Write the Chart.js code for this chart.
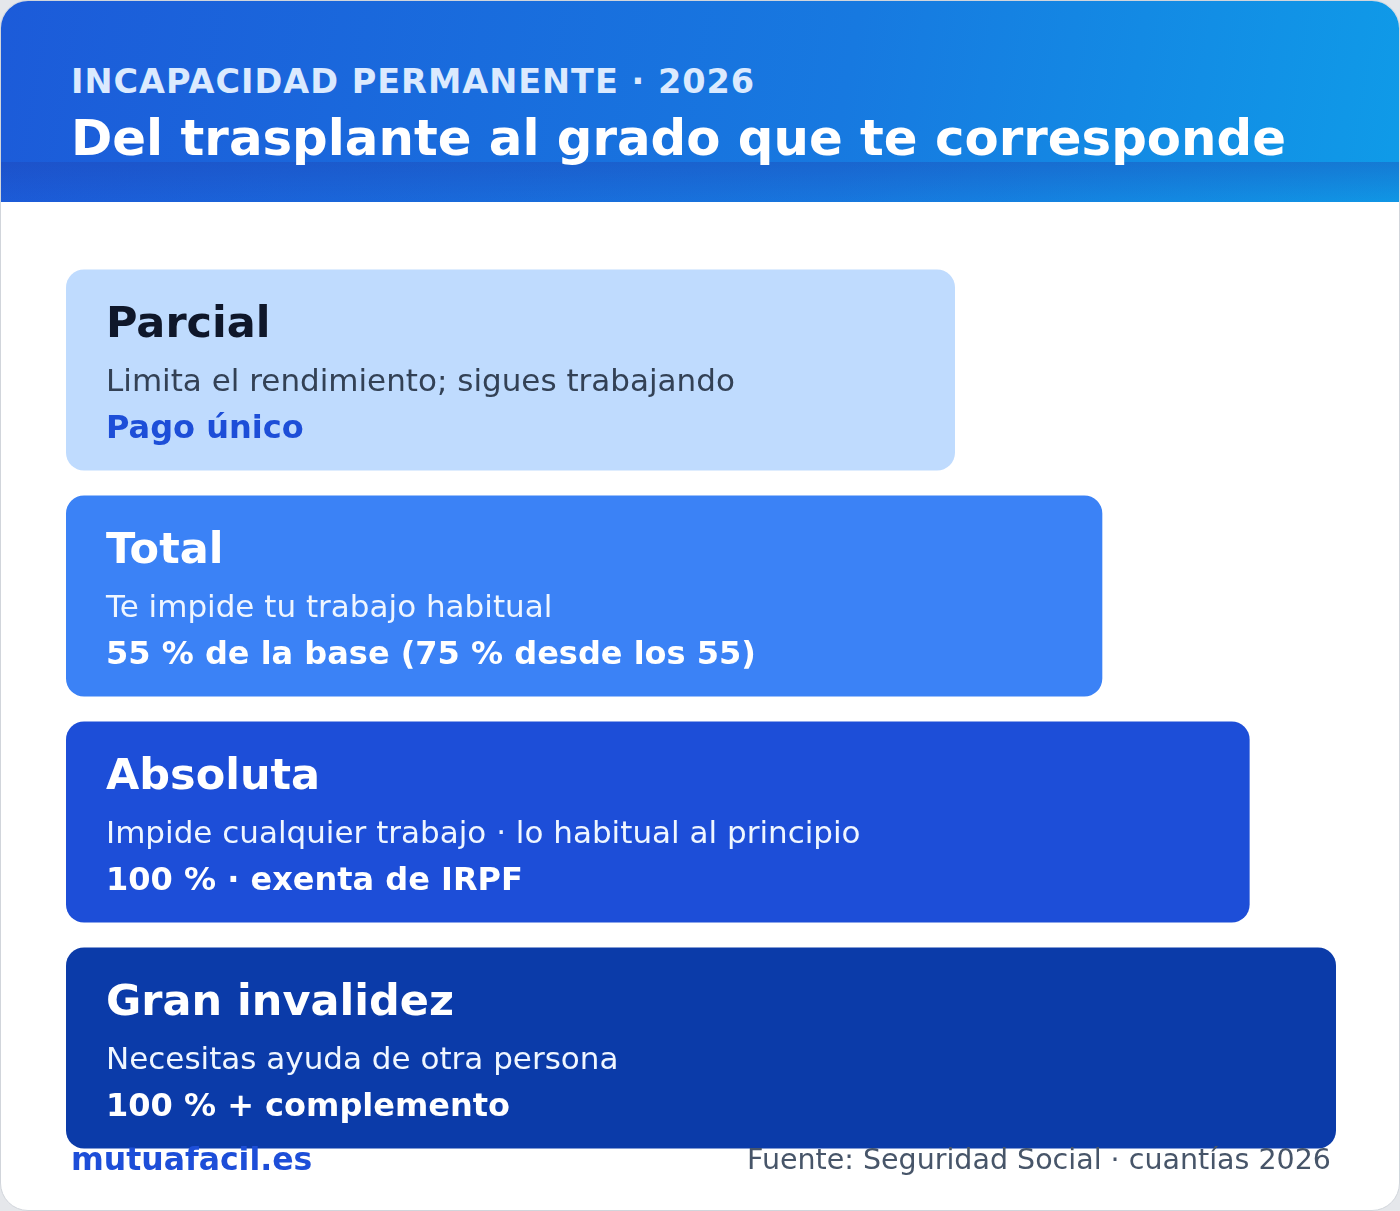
<!DOCTYPE html>
<html><head><meta charset="utf-8">
<script src="https://cdn.jsdelivr.net/npm/chart.js@4"></script>
<style>
  html,body{margin:0;padding:0;background:#e5e7eb;}
  body{width:1400px;height:1211px;position:relative;font-family:"DejaVu Sans",sans-serif;overflow:hidden;}
  .card{position:absolute;left:0;top:0;width:1398px;height:1209px;background:#fff;border:1px solid #d1d5db;border-radius:28px;overflow:hidden;}
  .head{position:absolute;left:0;top:0;width:100%;height:201px;background:linear-gradient(100deg,#1c5bd9 0%,#1779e0 60%,#0f9be8 100%);}
  .band{position:absolute;left:0;top:161px;width:100%;height:40px;background:linear-gradient(180deg,rgba(30,64,175,0.35),rgba(30,64,175,0.05));}
  .sub{position:absolute;left:70px;top:61px;font-size:33.5px;font-weight:bold;color:#dbeafe;letter-spacing:1px;}
  .title{position:absolute;left:70px;top:108px;font-size:49.8px;font-weight:bold;color:#fff;}
  #wrap{position:absolute;left:65px;top:256px;width:1270px;height:904px;}
  .foot{position:absolute;top:1142px;z-index:2;}
</style></head>
<body>
<div class="card">
  <div class="head"><div class="band"></div></div>
  <div class="sub">INCAPACIDAD PERMANENTE · 2026</div>
  <div class="title">Del trasplante al grado que te corresponde</div>
  <div id="wrap"><canvas id="c"></canvas></div>
  <div class="foot" style="left:70px;font-size:31.5px;top:1140px;font-weight:bold;color:#1d4ed8;">mutuafacil.es</div>
  <div class="foot" style="right:68px;font-size:28.5px;color:#475569;">Fuente: Seguridad Social · cuantías 2026</div>
</div>
<script>
const categories = ['Parcial', 'Total', 'Absoluta', 'Gran invalidez'];
const descriptions = [
  'Limita el rendimiento; sigues trabajando',
  'Te impide tu trabajo habitual',
  'Impide cualquier trabajo · lo habitual al principio',
  'Necesitas ayuda de otra persona'
];
const amounts = [
  'Pago único',
  '55 % de la base (75 % desde los 55)',
  '100 % · exenta de IRPF',
  '100 % + complemento'
];
const widths = [70, 81.6, 93.2, 100];
const barColors = ['#bfdbfe', '#3b82f6', '#1d4ed8', '#0b3ba9'];

const labelPlugin = {
  id: 'labels',
  afterDatasetsDraw(chart) {
    const ctx = chart.ctx;
    const meta = chart.getDatasetMeta(0);
    meta.data.forEach((bar, i) => {
      const top = bar.y - bar.height / 2;
      const x = bar.base + 40;
      const light = i === 0;
      ctx.save();
      ctx.textBaseline = 'alphabetic';
      ctx.fillStyle = light ? '#0f172a' : '#ffffff';
      ctx.font = 'bold 43px "DejaVu Sans"';
      ctx.fillText(categories[i], x, top + 67);
      ctx.fillStyle = light ? '#334155' : '#eff6ff';
      ctx.font = '31px "DejaVu Sans"';
      ctx.fillText(descriptions[i], x, top + 121);
      ctx.fillStyle = light ? '#1d4ed8' : '#ffffff';
      ctx.font = 'bold 32px "DejaVu Sans"';
      ctx.fillText(amounts[i], x, top + 168);
      ctx.restore();
    });
  }
};

new Chart(document.getElementById('c'), {
  type: 'bar',
  data: {
    labels: categories,
    datasets: [{
      data: widths,
      backgroundColor: barColors,
      borderRadius: 18,
      borderSkipped: false,
      categoryPercentage: 1,
      barPercentage: 201 / 226
    }]
  },
  options: {
    indexAxis: 'y',
    responsive: true,
    maintainAspectRatio: false,
    animation: false,
    layout: { padding: 0 },
    plugins: { legend: { display: false }, tooltip: { enabled: false } },
    scales: {
      x: { display: false, min: 0, max: 100 },
      y: { display: false }
    }
  },
  plugins: [labelPlugin]
});
</script>
</body></html>
